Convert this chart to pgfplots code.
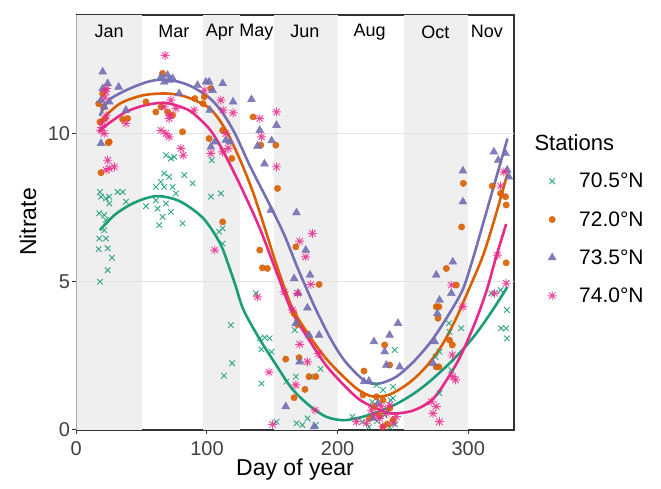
\documentclass[border=0pt]{standalone}
\usepackage{fontspec}
\setmainfont{Liberation Sans}
\usepackage{pgfplots}
\pgfplotsset{compat=1.18}
\definecolor{cteal}{HTML}{1B9E77}
\definecolor{corange}{HTML}{D95F02}
\definecolor{cpurple}{HTML}{7570B3}
\definecolor{cpink}{HTML}{E7298A}
\definecolor{bandgrey}{HTML}{EFEFEF}
\definecolor{gridgrey}{HTML}{E2E2E2}
\pgfdeclareplotmark{ast8}{%
 \pgfpathmoveto{\pgfqpoint{-\pgfplotmarksize}{0pt}}\pgfpathlineto{\pgfqpoint{\pgfplotmarksize}{0pt}}%
 \pgfpathmoveto{\pgfqpoint{0pt}{-\pgfplotmarksize}}\pgfpathlineto{\pgfqpoint{0pt}{\pgfplotmarksize}}%
 \pgfpathmoveto{\pgfqpoint{-0.7071\pgfplotmarksize}{-0.7071\pgfplotmarksize}}\pgfpathlineto{\pgfqpoint{0.7071\pgfplotmarksize}{0.7071\pgfplotmarksize}}%
 \pgfpathmoveto{\pgfqpoint{-0.7071\pgfplotmarksize}{0.7071\pgfplotmarksize}}\pgfpathlineto{\pgfqpoint{0.7071\pgfplotmarksize}{-0.7071\pgfplotmarksize}}%
 \pgfusepathqstroke}
\newcommand{\mfont}{\fontsize{18}{21}\selectfont}
\begin{document}
\begin{tikzpicture}
\path[use as bounding box] (0pt,0pt) rectangle (661pt,489pt);
\begin{axis}[
  at={(76.3pt,59pt)}, anchor=south west,
  scale only axis, width=437.7pt, height=415pt,
  xmin=0, xmax=335, ymin=0, ymax=14,
  xtick={0,100,200,300}, ytick={0,5,10},
  xtick pos=bottom, ytick pos=left,
  tick align=outside, major tick length=4pt,
  every tick/.style={black!80, line width=1pt},
  axis line style={black!80, line width=1.1pt},
  /pgf/number format/assume math mode=true,
  ticklabel style={font=\fontsize{20}{24}\selectfont, text=black!75},
  xticklabel style={inner sep=7pt},
  yticklabel style={inner sep=2pt},
  legend style={at={(axis description cs:1.0594,0.624)}, anchor=north west,
    draw=none, fill=none, inner sep=0pt, row sep=18pt,
    font=\fontsize{21}{25}\selectfont},
  legend cell align=left,
  legend image code/.code={\pgfpathrectangle{\pgfqpoint{0pt}{-1pt}}{\pgfqpoint{37pt}{2pt}}\pgfusepath{use as bounding box}\draw[#1] plot coordinates {(12pt,0pt)};},
]
% month bands
\addplot[fill=bandgrey, draw=none, forget plot] coordinates {(0,14) (50,14)} \closedcycle;
\addplot[fill=bandgrey, draw=none, forget plot] coordinates {(97,14) (125,14)} \closedcycle;
\addplot[fill=bandgrey, draw=none, forget plot] coordinates {(151,14) (200,14)} \closedcycle;
\addplot[fill=bandgrey, draw=none, forget plot] coordinates {(251,14) (300,14)} \closedcycle;
% grid lines
\addplot[gridgrey, line width=1.2pt, forget plot] coordinates {(0,5) (335,5)};
\addplot[gridgrey, line width=1.2pt, forget plot] coordinates {(0,10) (335,10)};

\addplot[only marks, mark=x, mark size=3.9pt, cteal, line width=0.9pt, mark options={opacity=0.9}] table {
x y
18.1 8.03
18.9 7.87
22.7 7.81
25.2 7.87
31.6 8.03
35.5 8.03
25.2 7.64
17.6 7.31
21.4 7.25
22.7 7.08
38.0 7.70
68.6 9.27
72.4 9.16
74.9 9.21
67.3 8.65
71.1 8.54
82.6 8.60
89.0 8.32
64.8 8.37
60.9 8.20
67.3 8.20
73.7 8.20
53.3 7.55
60.9 7.75
68.6 7.64
62.2 7.47
66.0 7.19
72.4 7.36
63.5 6.91
81.3 6.97
76.2 7.98
103.7 9.10
103.0 7.87
110.6 7.98
112.0 6.80
21.4 6.74
17.6 6.46
22.7 6.46
17.1 6.10
24.0 6.13
27.3 5.81
24.0 5.39
18.1 5.00
109.3 6.69
112.0 6.29
113.0 1.83
118.3 3.54
119.3 2.25
137.4 4.61
141.7 1.57
140.4 3.09
144.2 3.12
148.0 3.09
141.7 2.72
149.4 2.64
153.2 0.28
167.2 3.37
168.5 0.23
160.8 1.63
168.0 1.80
187.0 2.06
179.4 1.80
173.0 0.17
177.0 0.39
183.3 0.17
211.3 0.45
219.0 0.28
226.6 0.95
229.7 1.52
234.7 1.35
242.4 1.46
243.7 2.70
242.4 1.07
278.0 2.64
275.0 2.47
278.0 1.24
285.7 3.31
294.6 3.43
287.0 2.02
317.6 4.61
329.5 4.05
325.2 3.43
329.0 3.43
329.5 3.09
240.6 1.01
285.2 3.60
324.7 4.72
230.0 0.30
236.0 0.50
244.0 0.20
240.0 0.10
224.0 0.10
238.0 0.65
};
\addlegendentry{70.5°N}
\addplot[only marks, mark=*, mark size=3.2pt, corange, mark options={draw=none, fill=corange, opacity=0.9}] table {
x y
18.1 10.39
17.1 11.01
20.2 11.35
21.0 10.90
22.2 10.51
25.2 9.72
18.9 8.68
35.5 10.48
39.3 10.51
66.0 12.03
60.9 10.73
64.8 10.90
69.9 10.73
73.7 10.62
81.3 10.06
97.9 11.24
101.7 9.83
103.0 11.52
112.0 10.11
112.0 7.02
53.3 11.07
24.5 9.69
90.7 11.18
97.0 11.01
135.3 10.56
141.2 9.61
152.7 9.61
154.0 8.15
119.0 9.16
140.4 6.07
142.5 5.47
146.3 5.45
168.0 6.18
185.8 4.91
166.7 3.93
169.3 3.56
160.3 2.39
170.5 2.44
178.1 1.80
183.3 1.80
175.0 1.37
166.7 1.09
220.2 1.99
219.4 1.18
229.7 1.12
234.7 1.01
239.8 0.73
224.5 0.39
242.4 0.34
234.7 0.11
232.0 0.50
238.0 0.20
228.0 0.80
236.0 2.87
239.8 2.19
283.2 5.45
290.8 4.89
275.5 4.16
277.5 4.16
276.8 3.77
275.5 2.13
277.5 2.13
329.0 5.64
285.7 3.03
287.8 2.87
294.9 6.85
296.2 8.32
318.3 8.23
324.7 7.98
328.5 7.87
329.0 7.59
};
\addlegendentry{72.0°N}
\addplot[only marks, mark=triangle*, mark size=4.6pt, cpurple, mark options={draw=none, fill=cpurple, opacity=0.9}] table {
x y
20.2 12.08
20.2 11.52
24.0 11.69
18.9 11.13
21.4 10.90
25.2 11.07
18.9 9.67
32.4 11.57
38.0 10.79
64.8 11.91
69.9 11.97
71.1 11.80
73.7 11.86
67.3 11.74
78.7 11.35
92.8 11.63
99.2 11.74
101.7 11.74
112.0 11.69
104.3 11.46
103.0 9.55
120.0 11.07
134.1 11.15
153.2 10.28
140.4 10.11
138.7 9.58
144.0 8.98
149.5 9.76
117.5 9.72
106.0 9.72
102.2 10.79
148.9 7.42
168.5 7.33
114.5 9.78
175.6 6.07
178.9 5.23
166.7 5.11
176.9 4.12
168.0 3.60
178.1 3.20
185.8 3.20
171.0 2.30
160.3 0.79
182.0 0.11
227.8 2.98
220.2 1.63
224.0 1.65
169.7 4.61
239.8 3.20
246.2 3.60
236.0 2.64
237.3 2.19
247.5 2.13
230.9 0.90
227.1 0.39
275.5 5.23
288.2 5.67
287.0 4.61
278.0 4.38
274.3 2.98
273.0 2.25
276.3 3.93
295.9 8.74
295.9 7.70
319.6 9.38
322.9 9.10
328.5 9.33
329.8 8.77
331.0 8.54
};
\addlegendentry{73.5°N}
\addplot[only marks, mark=ast8, mark size=4.5pt, cpink, line width=0.9pt, mark options={opacity=0.85}] table {
x y
68.0 12.64
22.7 11.41
20.2 10.39
18.9 10.11
21.4 10.00
19.5 10.20
23.0 10.60
22.0 11.20
38.0 10.34
24.0 9.10
25.2 8.82
29.1 8.88
22.7 8.77
64.8 10.11
68.6 10.00
71.1 9.89
72.4 11.13
67.3 10.90
71.1 10.51
76.2 10.85
80.0 9.50
81.8 9.27
90.2 10.79
103.0 9.33
112.0 9.38
110.6 11.13
97.9 11.46
23.2 11.52
71.6 10.62
112.4 10.79
120.0 10.70
116.2 9.50
140.4 10.51
141.7 9.89
153.2 10.73
153.2 8.88
106.0 6.07
114.4 10.00
138.7 4.49
180.7 6.63
171.0 6.37
175.6 5.84
179.4 4.91
159.0 4.66
169.3 4.61
165.4 4.05
185.3 2.58
171.0 2.89
176.9 2.30
147.5 1.95
168.0 1.52
182.7 0.67
150.2 0.19
214.4 0.28
222.0 0.23
225.8 0.67
228.4 0.51
233.5 0.79
237.3 0.56
239.8 0.84
244.9 0.45
234.7 0.11
242.4 0.23
232.2 0.39
271.7 0.95
275.5 0.79
273.0 0.56
278.0 0.28
288.2 1.80
287.0 4.89
295.9 4.16
329.0 4.95
320.1 4.61
287.8 2.53
290.3 1.69
322.2 5.90
327.2 8.71
324.7 8.23
};
\addlegendentry{74.0°N}
% smooth fits
\addplot[cteal, line width=2.6pt, smooth, forget plot] table {
x y
18 6.74
30 7.28
45 7.68
61.5 7.89
79 7.72
97 7.15
110 6.3
117 5.5
122 4.85
128 4.05
140 3.09
153 2.19
165 1.4
178 0.84
191 0.45
204 0.33
216 0.41
229 0.58
245 0.88
258 1.22
270 1.62
285 2.22
296 2.72
306 3.25
318 4.0
330 4.83
};
\addplot[corange, line width=2.6pt, smooth, forget plot] table {
x y
17.6 10.39
33 11.0
51 11.29
69 11.35
84 11.24
102 10.85
114 10.15
125 9.15
135 8.05
144 6.85
153 5.6
165 4.15
178 3.2
191 2.42
204 1.82
216 1.35
227 1.13
240 1.2
255 1.6
268 2.15
280 2.87
290 3.7
300 4.7
311 5.85
320 7.1
330 8.65
};
\addplot[cpurple, line width=2.6pt, smooth, forget plot] table {
x y
18 10.6
25 11.13
40 11.5
55 11.75
66 11.82
78 11.75
89 11.57
102 11.2
112 10.7
122 9.95
133 8.9
148 7.6
159 6.6
170 5.4
183 4.1
195 3.05
206 2.3
221 1.65
232 1.57
245 1.8
258 2.3
270 2.9
280 3.54
295 4.66
303 5.7
311 6.91
320 8.3
330 9.83
};
\addplot[cpink, line width=2.6pt, smooth, forget plot] table {
x y
17 10.06
25 10.35
38 10.73
52 10.95
67 11.04
80 10.9
89 10.7
102 10.15
112 9.44
125 8.3
140 6.85
153 5.35
165 4.0
178 3.05
191 2.19
204 1.55
216 1.05
227 0.78
240 0.56
255 0.62
265 0.8
273 1.05
280 1.45
293 2.4
305 3.6
314 4.7
321 5.79
329 6.95
};
% month labels
\node[font=\mfont] at (axis cs:25.2,13.43) {Jan};
\node[font=\mfont] at (axis cs:74.7,13.43) {Mar};
\node[font=\mfont] at (axis cs:109.9,13.43) {Apr};
\node[font=\mfont] at (axis cs:137.9,13.43) {May};
\node[font=\mfont] at (axis cs:174.9,13.43) {Jun};
\node[font=\mfont] at (axis cs:224.5,13.43) {Aug};
\node[font=\mfont] at (axis cs:274.8,13.43) {Oct};
\node[font=\mfont] at (axis cs:314.2,13.43) {Nov};
\end{axis}
\node[font=\fontsize{23}{27}\selectfont] at (295pt,19pt) {Day of year};
\node[font=\fontsize{23}{27}\selectfont, rotate=90] at (28pt,267pt) {Nitrate};
\node[anchor=west, font=\fontsize{22}{26}\selectfont] at (531pt,346pt) {Stations};
\end{tikzpicture}
\end{document}
